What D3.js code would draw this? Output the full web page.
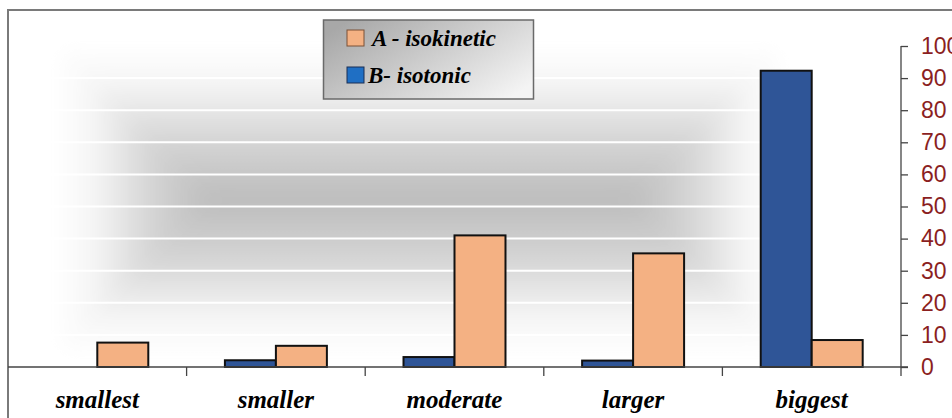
<!DOCTYPE html>
<html>
<head>
<meta charset="utf-8">
<script src="https://cdn.jsdelivr.net/npm/d3@7"></script>
<style>
  html, body { margin: 0; padding: 0; background: #fff; overflow: hidden; }
  svg { display: block; }
</style>
</head>
<body>
<script>
// ---- data ----
const categories = ["smallest", "smaller", "moderate", "larger", "biggest"];
const seriesNames = ["A - isokinetic", "B- isotonic"];
const seriesA = [7.6, 6.6, 41.0, 35.4, 8.4];   // A - isokinetic (orange)
const seriesB = [0, 2.1, 3.1, 2.0, 92.3];      // B- isotonic (blue)
const yTicks = [0, 10, 20, 30, 40, 50, 60, 70, 80, 90, 100];

const W = 952, H = 418;
const svg = d3.select("body").append("svg").attr("width", W).attr("height", H);
const defs = svg.append("defs");

// scales
const x = d3.scaleBand().domain(categories).range([8, 901]).paddingInner(0).paddingOuter(0);
const y = d3.scaleLinear().domain([0, 100]).range([367, 46]);
const groupKeys = ["B", "A"];
const x1 = d3.scaleBand().domain(groupKeys)
  .range([x.bandwidth() * 0.2145, x.bandwidth() * 0.7855]).padding(0);
const colors = { A: "#F4B183", B: "#2F5597" };
const legendColors = { A: "#F4B183", B: "#1F6FC4" };

// ---- background "from center" gradient ----
const bx0 = 55, bx1 = 785, by0 = 45, by1 = 355;
const half = (by1 - by0) / 2, cy = by0 + half;
const cxL = bx0 + half, cxR = bx1 - half;
function grad(id, x1g, y1g, x2g, y2g) {
  const g = defs.append("linearGradient").attr("id", id).attr("gradientUnits", "userSpaceOnUse")
    .attr("x1", x1g).attr("y1", y1g).attr("x2", x2g).attr("y2", y2g);
  g.append("stop").attr("offset", 0).attr("stop-color", "#ffffff");
  g.append("stop").attr("offset", 0.25).attr("stop-color", "#f5f5f5");
  g.append("stop").attr("offset", 0.6).attr("stop-color", "#d6d6d6");
  g.append("stop").attr("offset", 1).attr("stop-color", "#bcbcbc");
}
grad("gTop", 0, by0, 0, cy);
grad("gBot", 0, by1, 0, cy);
grad("gLeft", bx0, 0, cxL, 0);
grad("gRight", bx1, 0, cxR, 0);
const blur = defs.append("filter").attr("id", "soft").attr("x", "-10%").attr("y", "-10%").attr("width", "120%").attr("height", "120%");
blur.append("feGaussianBlur").attr("stdDeviation", 10);
const bg = svg.append("g").attr("filter", "url(#soft)");
const P = pts => pts.map(p => p.join(",")).join(" ");
bg.append("polygon").attr("points", P([[bx0, by0], [bx1, by0], [cxR, cy], [cxL, cy]])).attr("fill", "url(#gTop)");
bg.append("polygon").attr("points", P([[bx0, by1], [bx1, by1], [cxR, cy], [cxL, cy]])).attr("fill", "url(#gBot)");
bg.append("polygon").attr("points", P([[bx0, by0], [cxL, cy], [bx0, by1]])).attr("fill", "url(#gLeft)");
bg.append("polygon").attr("points", P([[bx1, by0], [cxR, cy], [bx1, by1]])).attr("fill", "url(#gRight)");

// gridlines
svg.append("g").selectAll("line").data(yTicks.filter(t => t > 0 && t < 100)).join("line")
  .attr("x1", 8).attr("x2", 900).attr("y1", d => y(d)).attr("y2", d => y(d))
  .attr("stroke", "#ffffff").attr("stroke-width", 2);

// frame
svg.append("rect").attr("x", 8).attr("y", 10).attr("width", 1000).attr("height", 500)
  .attr("fill", "none").attr("stroke", "#7a7a7a").attr("stroke-width", 2);

// bars
const rows = categories.map((c, i) => ({ cat: c, A: seriesA[i], B: seriesB[i] }));
const groups = svg.append("g").selectAll("g").data(rows).join("g")
  .attr("transform", d => `translate(${x(d.cat)},0)`);
groups.selectAll("rect").data(d => groupKeys.map(k => ({ k, v: d[k] })).filter(e => e.v > 0)).join("rect")
  .attr("x", d => x1(d.k)).attr("width", x1.bandwidth())
  .attr("y", d => y(d.v)).attr("height", d => y(0) - y(d.v))
  .attr("fill", d => colors[d.k]).attr("stroke", "#111").attr("stroke-width", 2);

// x axis
const xAxisG = svg.append("g");
xAxisG.append("line").attr("x1", 8).attr("x2", 908).attr("y1", y(0)).attr("y2", y(0))
  .attr("stroke", "#444").attr("stroke-width", 1.3);
xAxisG.selectAll("line.t").data(categories.slice(1)).join("line").attr("class", "t")
  .attr("x1", d => x(d)).attr("x2", d => x(d)).attr("y1", y(0)).attr("y2", y(0) + 9)
  .attr("stroke", "#444").attr("stroke-width", 1.3);
xAxisG.selectAll("text").data(categories).join("text")
  .attr("x", d => x(d) + x.bandwidth() / 2).attr("y", 408)
  .attr("text-anchor", "middle")
  .attr("font-family", "'Liberation Serif', 'Times New Roman', serif")
  .attr("font-style", "italic").attr("font-weight", "bold").attr("font-size", 25)
  .attr("fill", "#000").text(d => d);

// y axis (right)
const yAxis = d3.axisRight(y).tickValues(yTicks).tickSize(7).tickPadding(13).tickFormat(d3.format("d"));
const yAxisG = svg.append("g").attr("transform", "translate(901,0)").call(yAxis);
yAxisG.select(".domain").remove();
yAxisG.append("line").attr("x1", 0).attr("x2", 0).attr("y1", y(100)).attr("y2", y(0) + 9)
  .attr("stroke", "#444").attr("stroke-width", 1.3);
yAxisG.selectAll(".tick line").attr("stroke", "#444").attr("stroke-width", 1.3);
yAxisG.selectAll(".tick text")
  .attr("font-family", "'Liberation Sans', Arial, sans-serif")
  .attr("font-size", 23).attr("fill", "#8B1F1F");

// legend
const lg = defs.append("linearGradient").attr("id", "legG")
  .attr("x1", 0).attr("y1", 0.2).attr("x2", 1).attr("y2", 0.8);
lg.append("stop").attr("offset", 0).attr("stop-color", "#a8a8a8");
lg.append("stop").attr("offset", 1).attr("stop-color", "#f4f4f4");
const legend = svg.append("g");
legend.append("rect").attr("x", 323.5).attr("y", 20).attr("width", 210).attr("height", 79)
  .attr("fill", "url(#legG)").attr("stroke", "#6a6a6a").attr("stroke-width", 1.5);
const legItems = [
  { k: "A", name: seriesNames[0], sy: 30, tx: 372, ty: 46 },
  { k: "B", name: seriesNames[1], sy: 67, tx: 368, ty: 83 }
];
legend.selectAll("rect.sw").data(legItems).join("rect").attr("class", "sw")
  .attr("x", 347).attr("y", d => d.sy).attr("width", 17).attr("height", 16)
  .attr("fill", d => legendColors[d.k])
  .attr("stroke", d => d.k === "A" ? "#7a5036" : "#1a2f55").attr("stroke-width", 1);
legend.selectAll("text").data(legItems).join("text")
  .attr("x", d => d.tx).attr("y", d => d.ty)
  .attr("font-family", "'Liberation Serif', 'Times New Roman', serif")
  .attr("font-style", "italic").attr("font-weight", "bold").attr("font-size", 23)
  .attr("fill", "#000").text(d => d.name);
</script>
</body>
</html>
